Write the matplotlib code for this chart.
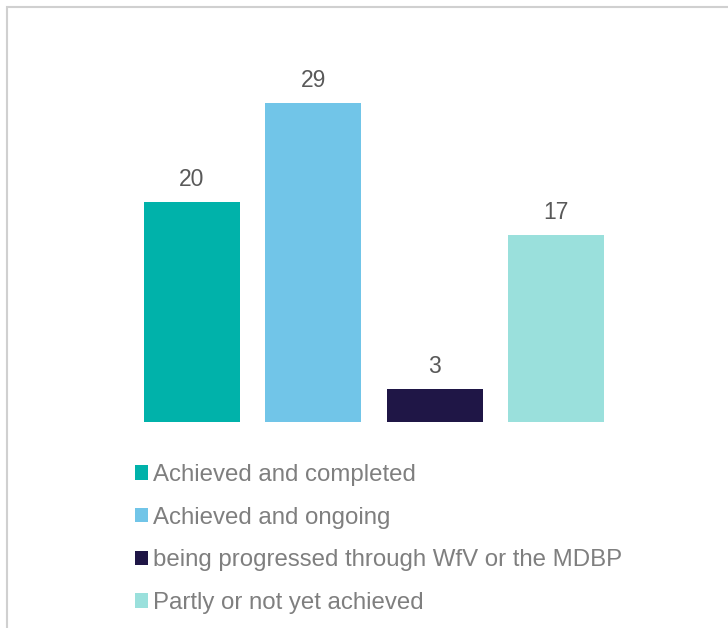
import matplotlib.pyplot as plt
from matplotlib.patches import Rectangle

plt.rcParams['font.family'] = ['Liberation Sans', 'DejaVu Sans']

# data
categories = ['Achieved and completed', 'Achieved and ongoing',
              'being progressed through WfV or the MDBP', 'Partly or not yet achieved']
values = [20, 29, 3, 17]
colors = ['#00b2aa', '#71c5e8', '#1f1646', '#9ae0dc']

W, H = 728, 628
fig = plt.figure(figsize=(W / 100, H / 100), dpi=100)

# chart border (runs off the right/bottom edge)
fig.patches.append(Rectangle((7 / W, -0.05), 1.2, (H - 7) / H + 0.05,
                             transform=fig.transFigure, fill=False,
                             edgecolor='#d0d0d0', linewidth=1.5))

# axes placed in pixel coords
left, right, bottom, top = 131, 617, H - 422, H - 48
ax = fig.add_axes([left / W, bottom / H, (right - left) / W, (top - bottom) / H])

for i, (v, c, lab) in enumerate(zip(values, colors, categories)):
    ax.bar(i, v, width=0.79, color=c, label=lab)
    ax.annotate(str(v), (i, v), xytext=(0, 8), textcoords='offset points',
                ha='center', va='bottom', fontsize=16.5, color='#595959')

ax.set_xlim(-0.5, 3.5)
ax.set_ylim(0, 34)
ax.axis('off')

fig.legend(loc='upper left', bbox_to_anchor=(135 / W, 1 - 464 / H),
           frameon=False, fontsize=17.3, labelcolor='#7f7f7f',
           handlelength=0.55, handleheight=0.55, handletextpad=0.2,
           labelspacing=0.86, borderpad=0, borderaxespad=0)

fig.savefig('out.png', dpi=100)
